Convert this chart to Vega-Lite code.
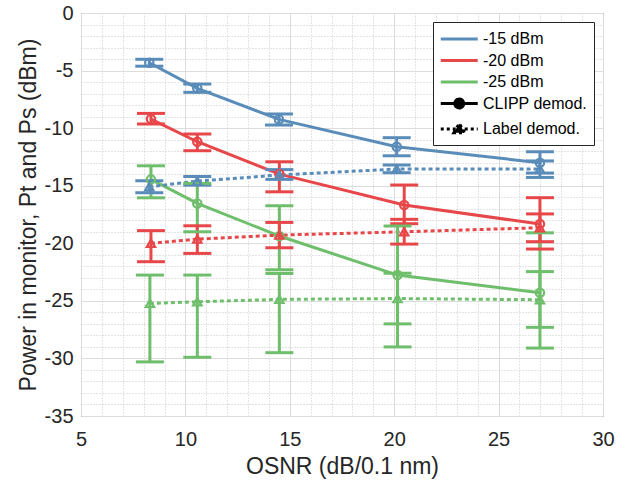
{
  "$schema": "https://vega.github.io/schema/vega-lite/v6.json",
  "width": 522,
  "height": 403,
  "autosize": {"type": "none"},
  "padding": {"left": 81, "top": 13, "right": 31, "bottom": 65},
  "background": "white",
  "config": {
    "view": {"stroke": "#555555", "strokeWidth": 1},
    "font": "Liberation Sans",
    "axis": {
      "labelFont": "Liberation Sans",
      "labelFontSize": 20,
      "labelColor": "#262626",
      "titleFont": "Liberation Sans",
      "titleFontSize": 23,
      "titleFontWeight": "normal",
      "titleColor": "#262626",
      "domain": false,
      "ticks": false,
      "labelOverlap": false,
      "labelFlush": false,
      "labelBound": false
    },
    "legend": {
      "orient": "top-right",
      "offset": 9,
      "padding": 6,
      "fillColor": "white",
      "strokeColor": "#262626",
      "labelFont": "Liberation Sans",
      "labelFontSize": 16,
      "labelColor": "#000000",
      "symbolSize": 342,
      "symbolStrokeWidth": 3,
      "labelOffset": 22,
      "rowPadding": 2.5,
      "labelLimit": 300
    }
  },
  "datasets": {
    "pts": [
      {"key": "-15 dBm", "m": "CLIPP", "osnr": 8.27, "p": -4.32, "lo": -4.62, "hi": -4.02},
      {"key": "-15 dBm", "m": "CLIPP", "osnr": 10.57, "p": -6.54, "lo": -6.89, "hi": -6.17},
      {"key": "-15 dBm", "m": "CLIPP", "osnr": 14.48, "p": -9.24, "lo": -9.73, "hi": -8.77},
      {"key": "-15 dBm", "m": "CLIPP", "osnr": 20.12, "p": -11.62, "lo": -12.4, "hi": -10.83},
      {"key": "-15 dBm", "m": "CLIPP", "osnr": 26.98, "p": -13.0, "lo": -13.9, "hi": -12.05},
      {"key": "-20 dBm", "m": "CLIPP", "osnr": 8.35, "p": -9.21, "lo": -9.64, "hi": -8.72},
      {"key": "-20 dBm", "m": "CLIPP", "osnr": 10.57, "p": -11.18, "lo": -11.96, "hi": -10.51},
      {"key": "-20 dBm", "m": "CLIPP", "osnr": 14.5, "p": -13.99, "lo": -15.53, "hi": -12.92},
      {"key": "-20 dBm", "m": "CLIPP", "osnr": 20.48, "p": -16.68, "lo": -18.3, "hi": -14.94},
      {"key": "-20 dBm", "m": "CLIPP", "osnr": 26.98, "p": -18.33, "lo": -20.5, "hi": -16.04},
      {"key": "-25 dBm", "m": "CLIPP", "osnr": 8.35, "p": -14.45, "lo": -16.05, "hi": -13.27},
      {"key": "-25 dBm", "m": "CLIPP", "osnr": 10.57, "p": -16.54, "lo": -19.0, "hi": -14.8},
      {"key": "-25 dBm", "m": "CLIPP", "osnr": 14.5, "p": -19.37, "lo": -22.3, "hi": -16.74},
      {"key": "-25 dBm", "m": "CLIPP", "osnr": 20.16, "p": -22.76, "lo": -27.0, "hi": -18.5},
      {"key": "-25 dBm", "m": "CLIPP", "osnr": 26.98, "p": -24.3, "lo": -29.1, "hi": -19.09},
      {"key": "-15 dBm", "m": "Label", "osnr": 8.27, "p": -15.09, "lo": -15.61, "hi": -14.57},
      {"key": "-15 dBm", "m": "Label", "osnr": 10.57, "p": -14.6, "lo": -14.95, "hi": -14.2},
      {"key": "-15 dBm", "m": "Label", "osnr": 14.5, "p": -14.07, "lo": -14.45, "hi": -13.6},
      {"key": "-15 dBm", "m": "Label", "osnr": 20.12, "p": -13.55, "lo": -13.87, "hi": -13.2},
      {"key": "-15 dBm", "m": "Label", "osnr": 26.98, "p": -13.55, "lo": -14.28, "hi": -12.85},
      {"key": "-20 dBm", "m": "Label", "osnr": 8.35, "p": -20.0, "lo": -21.6, "hi": -18.9},
      {"key": "-20 dBm", "m": "Label", "osnr": 10.57, "p": -19.64, "lo": -20.88, "hi": -18.48},
      {"key": "-20 dBm", "m": "Label", "osnr": 14.5, "p": -19.29, "lo": -20.39, "hi": -18.19},
      {"key": "-20 dBm", "m": "Label", "osnr": 20.48, "p": -19.0, "lo": -20.07, "hi": -17.92},
      {"key": "-20 dBm", "m": "Label", "osnr": 26.98, "p": -18.65, "lo": -19.86, "hi": -17.45},
      {"key": "-25 dBm", "m": "Label", "osnr": 8.3, "p": -25.22, "lo": -30.3, "hi": -22.76},
      {"key": "-25 dBm", "m": "Label", "osnr": 10.57, "p": -25.08, "lo": -29.9, "hi": -22.76},
      {"key": "-25 dBm", "m": "Label", "osnr": 14.5, "p": -24.87, "lo": -29.5, "hi": -22.62},
      {"key": "-25 dBm", "m": "Label", "osnr": 20.16, "p": -24.8, "lo": -29.0, "hi": -22.6},
      {"key": "-25 dBm", "m": "Label", "osnr": 26.98, "p": -24.9, "lo": -27.3, "hi": -22.46}
    ]
  },
  "data": {"name": "pts"},
  "encoding": {
    "x": {
      "field": "osnr",
      "type": "quantitative",
      "scale": {"domain": [5, 30], "nice": false, "zero": false},
      "title": "OSNR (dB/0.1 nm)",
      "axis": {
        "values": [5,6,7,8,9,10,11,12,13,14,15,16,17,18,19,20,21,22,23,24,25,26,27,28,29,30],
        "labelExpr": "datum.value % 5 === 0 ? datum.value + '' : ''",
        "gridDash": {"condition": {"test": "datum.value % 5 === 0", "value": []}, "value": [1, 2]},
        "gridColor": {"condition": {"test": "datum.value % 5 === 0", "value": "#dcdcdc"}, "value": "#c8c8c8"},
        "labelPadding": 13,
        "titlePadding": 6
      }
    },
    "y": {
      "field": "p",
      "type": "quantitative",
      "scale": {"domain": [-35, 0], "nice": false, "zero": false},
      "title": "Power in monitor, Pt and Ps (dBm)",
      "axis": {
        "values": [-35,-34,-33,-32,-31,-30,-29,-28,-27,-26,-25,-24,-23,-22,-21,-20,-19,-18,-17,-16,-15,-14,-13,-12,-11,-10,-9,-8,-7,-6,-5,-4,-3,-2,-1,0],
        "labelExpr": "datum.value % 5 === 0 ? datum.value + '' : ''",
        "gridDash": {"condition": {"test": "datum.value % 5 === 0", "value": []}, "value": [1, 2]},
        "gridColor": {"condition": {"test": "datum.value % 5 === 0", "value": "#dcdcdc"}, "value": "#c8c8c8"},
        "labelPadding": 8,
        "titlePadding": 4
      }
    },
    "color": {
      "field": "key",
      "type": "nominal",
      "title": null,
      "scale": {
        "domain": ["-15 dBm", "-20 dBm", "-25 dBm", "CLIPP demod.", "Label demod."],
        "range": ["#5a8cba", "#e8474a", "#6fbe6c", "#000000", "#000000"]
      }
    }
  },
  "layer": [
    {
      "transform": [{"filter": "datum.m === 'CLIPP'"}],
      "mark": {"type": "line", "strokeWidth": 3, "opacity": 1},
      "encoding": {"order": {"field": "osnr", "type": "quantitative"}}
    },
    {
      "transform": [{"filter": "datum.m === 'Label'"}],
      "mark": {"type": "line", "strokeWidth": 3, "strokeDash": [4, 3], "opacity": 1},
      "encoding": {"order": {"field": "osnr", "type": "quantitative"}}
    },
    {
      "mark": {"type": "rule", "strokeWidth": 3, "opacity": 1},
      "encoding": {
        "y": {"field": "lo", "type": "quantitative", "title": "Power in monitor, Pt and Ps (dBm)"},
        "y2": {"field": "hi"},
        "detail": {"field": "m"}
      }
    },
    {
      "mark": {"type": "tick", "orient": "horizontal", "size": 28, "thickness": 3, "opacity": 1},
      "encoding": {
        "y": {"field": "lo", "type": "quantitative", "title": "Power in monitor, Pt and Ps (dBm)"}
      }
    },
    {
      "mark": {"type": "tick", "orient": "horizontal", "size": 28, "thickness": 3, "opacity": 1},
      "encoding": {
        "y": {"field": "hi", "type": "quantitative", "title": "Power in monitor, Pt and Ps (dBm)"}
      }
    },
    {
      "transform": [{"filter": "datum.m === 'CLIPP'"}],
      "mark": {"type": "point", "shape": "circle", "filled": false, "size": 70, "strokeWidth": 2.2, "opacity": 1}
    },
    {
      "transform": [{"filter": "datum.m === 'Label'"}],
      "mark": {"type": "point", "shape": "triangle-up", "filled": false, "size": 70, "strokeWidth": 2.2, "opacity": 1}
    },
    {
      "transform": [{"filter": "false"}],
      "mark": {"type": "point", "filled": false, "opacity": 1},
      "encoding": {
        "shape": {
          "field": "key",
          "type": "nominal",
          "title": null,
          "scale": {
            "domain": ["-15 dBm", "-20 dBm", "-25 dBm", "CLIPP demod.", "Label demod."],
            "range": [
              "M -1 0 L 3 0",
              "M -1 0 L 3 0",
              "M -1 0 L 3 0",
              "M -1 0 L 0.52 0 M 1.48 0 L 3 0 M 0.52 0 A 0.48 0.48 0 1 1 1.48 0 A 0.48 0.48 0 1 1 0.52 0 Z",
              "M -1 0 L 3 0 M 0.42 0.4 L 1 -0.6 L 1.58 0.4 Z"
            ]
          }
        },
        "strokeDash": {
          "field": "key",
          "type": "nominal",
          "title": null,
          "scale": {
            "domain": ["-15 dBm", "-20 dBm", "-25 dBm", "CLIPP demod.", "Label demod."],
            "range": [[1, 0], [1, 0], [1, 0], [1, 0], [3, 3]]
          }
        }
      }
    }
  ]
}
